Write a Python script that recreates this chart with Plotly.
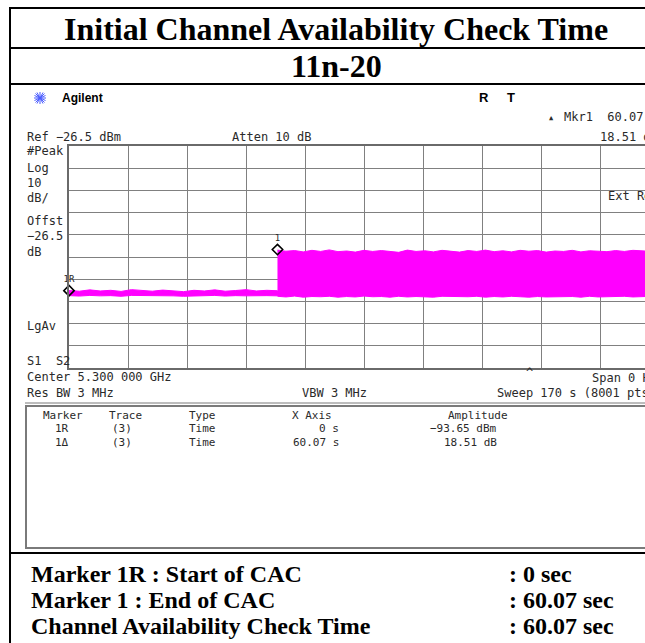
import plotly.graph_objects as go

# ---------------- data ----------------
title_text = "Initial Channel Availability Check Time"
subtitle_text = "11n-20"

sweep_time_s = 170.0
ref_level_dbm = -26.5
db_per_div = 10

# low (pre-radar) part of the trace: envelope of the dense noise band
t_low = [0, 3, 6, 9, 12, 15, 18, 21, 24, 27, 30, 33, 36, 39, 42, 45, 48, 51, 54, 57, 60.07]
low_upper = [-91.6, -91.9, -91.3, -91.8, -91.5, -92.0, -91.2, -91.7, -91.9, -91.4, -91.8,
             -92.1, -91.5, -91.8, -91.3, -91.9, -91.6, -91.2, -91.8, -91.5, -91.7]
low_lower = [-93.9, -94.1, -93.8, -94.0, -93.9, -94.2, -93.8, -94.0, -94.1, -93.9, -94.0,
             -94.2, -93.9, -94.0, -93.8, -94.1, -93.9, -94.0, -94.1, -93.9, -94.0]

# high part of the trace (after end of CAC)
t_high = [60.07, 62.5, 65, 67.5, 70, 72.5, 75, 77.5, 80, 82.5, 85, 87.5, 90, 92.5, 95, 97.5,
          100, 102.5, 105, 107.5, 110, 112.5, 115, 117.5, 120, 122.5, 125, 127.5, 130, 132.5,
          135, 137.5, 140, 142.5, 145, 147.5, 150, 152.5, 155, 157.5, 160, 162.5, 166]
high_upper = [-73.4, -73.9, -73.6, -74.2, -73.5, -74.0, -73.3, -74.1, -73.8, -74.3, -73.5,
              -74.0, -73.6, -73.9, -74.4, -73.4, -74.0, -73.7, -74.2, -73.5, -73.9, -74.3,
              -73.6, -74.0, -73.4, -74.1, -73.7, -74.2, -73.5, -73.9, -73.6, -74.3, -73.8,
              -74.0, -73.5, -74.2, -73.7, -73.9, -74.1, -73.6, -74.0, -73.5, -73.8]
high_lower = [-94.2, -94.5, -94.1, -94.6, -94.3, -94.4, -94.2, -94.6, -94.3, -94.5, -94.1,
              -94.4, -94.3, -94.6, -94.2, -94.5, -94.3, -94.4, -94.6, -94.2, -94.5, -94.3,
              -94.4, -94.2, -94.6, -94.3, -94.5, -94.2, -94.4, -94.6, -94.3, -94.5, -94.2,
              -94.4, -94.3, -94.6, -94.2, -94.5, -94.3, -94.4, -94.2, -94.5, -94.3]

marker_names = ["1R", "1"]
marker_times = [0.0, 60.07]
marker_amp_ref = -93.65
marker_delta_db = 18.51
marker_amps = [marker_amp_ref, marker_amp_ref + marker_delta_db]

summary_labels = ["Marker 1R : Start of CAC", "Marker 1 : End of CAC", "Channel Availability Check Time"]
summary_values = [": 0 sec", ": 60.07 sec", ": 60.07 sec"]

# ---------------- layout geometry (pixels) ----------------
W, H = 645, 643
PL, PR_VIS, PT, PB = 69, 645, 146, 368   # plot area (right part clipped by the window)
DIV_PX = 59.0                              # width of one horizontal division
x_visible_max = sweep_time_s / 10 * (PR_VIS - PL) / DIV_PX


def px(x):
    return (x - PL) / (PR_VIS - PL)


def py(y):
    return (PB - y) / (PB - PT)


MONO = "DejaVu Sans Mono"
SERIF = "Liberation Serif"
SANS = "Liberation Sans"
MAGENTA = "#FF00FF"
TXT = "#2a2a2a"

fig = go.Figure()

# noise band as filled polygons built from envelope arrays
fig.add_trace(go.Scatter(
    x=t_low + t_low[::-1], y=low_upper + low_lower[::-1],
    fill="toself", fillcolor=MAGENTA, mode="lines",
    line=dict(color=MAGENTA, width=1), hoverinfo="skip", showlegend=False))
fig.add_trace(go.Scatter(
    x=t_high + t_high[::-1], y=high_upper + high_lower[::-1],
    fill="toself", fillcolor=MAGENTA, mode="lines",
    line=dict(color=MAGENTA, width=1), hoverinfo="skip", showlegend=False))

# markers
fig.add_trace(go.Scatter(
    x=marker_times, y=[a + 2 for a in marker_amps], mode="markers+text",
    text=marker_names, textposition="top center",
    textfont=dict(family=MONO, size=9, color=TXT),
    marker=dict(symbol="diamond-open", size=8, color="black", line=dict(width=1.6, color="black")),
    cliponaxis=False, hoverinfo="skip", showlegend=False))

shapes = []
annotations = []


def line(x0, y0, x1, y1, color="black", width=2):
    shapes.append(dict(type="line", xref="paper", yref="paper",
                       x0=px(x0), y0=py(y0), x1=px(x1), y1=py(y1),
                       line=dict(color=color, width=width)))


def text(x, y, s, size=12, family=MONO, anchor="left", color=TXT, bold=False):
    if bold:
        s = "<b>" + s + "</b>"
    annotations.append(dict(xref="paper", yref="paper", x=px(x), y=py(y), text=s,
                            showarrow=False, xanchor=anchor, yanchor="middle",
                            font=dict(family=family, size=size, color=color)))


# outer frame of the report table
line(9, 8, 660, 8)
line(10, 7, 10, 643)
line(9, 48, 660, 48)
line(9, 84, 660, 84)
line(9, 553, 660, 553)

# titles
text(336, 29, title_text, size=32, family=SERIF, anchor="center", color="black", bold=True)
text(336, 66, subtitle_text, size=32, family=SERIF, anchor="center", color="black", bold=True)

# Agilent logo starburst
cx, cy = 40, 98
for dx, dy in [(6, 0), (0, 6), (4.5, 4.5), (4.5, -4.5), (3, 5.5), (-3, 5.5), (5.5, 2.5), (5.5, -2.5)]:
    line(cx - dx, cy - dy, cx + dx, cy + dy, color="#4a5cff", width=1)
text(60, 98, "Agilent", size=12, family=SANS, color="black", bold=True)
text(477, 97, "R", size=13, family=SANS, color="black", bold=True)
text(505, 97, "T", size=13, family=SANS, color="black", bold=True)

# instrument header texts
text(547, 118, "▲", size=7)
text(562, 117, "Mkr1  60.07 s")
text(25, 137, "Ref −26.5 dBm")
text(230, 137, "Atten 10 dB")
text(598, 137, "18.51 dB")

left_col = [("#Peak", 151), ("Log", 168), ("10", 183), ("dB/", 198), ("Offst", 221),
            ("−26.5", 236), ("dB", 252), ("LgAv", 326), ("S1  S2", 361)]
for s, y in left_col:
    text(25, y, s)

text(606, 196, "Ext Ref")

# below grid
text(524, 373, "^", size=12)
text(25, 377, "Center 5.300 000 GHz")
text(590, 378, "Span 0 Hz")
text(25, 393, "Res BW 3 MHz")
text(300, 393, "VBW 3 MHz")
text(495, 393, "Sweep 170 s (8001 pts)")

# marker table box
line(25, 403, 660, 403, color="#7a7a7a", width=1)
shapes.append(dict(type="rect", xref="paper", yref="paper",
                   x0=px(26), y0=py(406), x1=px(680), y1=py(548),
                   line=dict(color="#7a7a7a", width=2)))
TS = 11
text(41, 415, "Marker", size=TS)
text(107, 415, "Trace", size=TS)
text(187, 415, "Type", size=TS)
text(290, 415, "X Axis", size=TS)
text(446, 415, "Amplitude", size=TS)
rows = [("1R", "(3)", "Time", f"{marker_times[0]:g} s", f"{marker_amp_ref:.2f} dBm".replace("-", "−"), 428),
        ("1Δ", "(3)", "Time", f"{marker_times[1]:.2f} s", f"{marker_delta_db:.2f} dB", 442)]
for m, tr, ty, xa, amp, y in rows:
    text(53, y, m, size=TS)
    text(110, y, tr, size=TS)
    text(187, y, ty, size=TS)
    text(341, y, xa, size=TS, anchor="right")
    text(499, y, amp, size=TS, anchor="right")

# summary rows
for i, (lab, val) in enumerate(zip(summary_labels, summary_values)):
    y = 574 + 26 * i
    text(29, y, lab, size=24, family=SERIF, color="black", bold=True)
    text(507, y, val, size=24, family=SERIF, color="black", bold=True)

fig.update_layout(
    width=W, height=H,
    margin=dict(l=PL, r=W - PR_VIS, t=PT, b=H - PB, pad=0),
    paper_bgcolor="white", plot_bgcolor="white",
    shapes=shapes, annotations=annotations,
    xaxis=dict(range=[0, x_visible_max], dtick=sweep_time_s / 10, tick0=0,
               showgrid=True, gridcolor="#808080", gridwidth=1.2,
               showticklabels=False, ticks="", zeroline=False,
               showline=True, linecolor="#6a6a6a", linewidth=2, mirror=True, fixedrange=True),
    yaxis=dict(range=[ref_level_dbm - 10 * db_per_div, ref_level_dbm], dtick=db_per_div,
               tick0=ref_level_dbm, showgrid=True, gridcolor="#808080", gridwidth=1.2,
               showticklabels=False, ticks="", zeroline=False,
               showline=True, linecolor="#6a6a6a", linewidth=2, mirror=False, fixedrange=True),
)

fig.write_html(
    "out.html",
    config={"displayModeBar": False},
    post_script="document.body.style.margin='0';document.body.style.overflow='hidden';",
)
